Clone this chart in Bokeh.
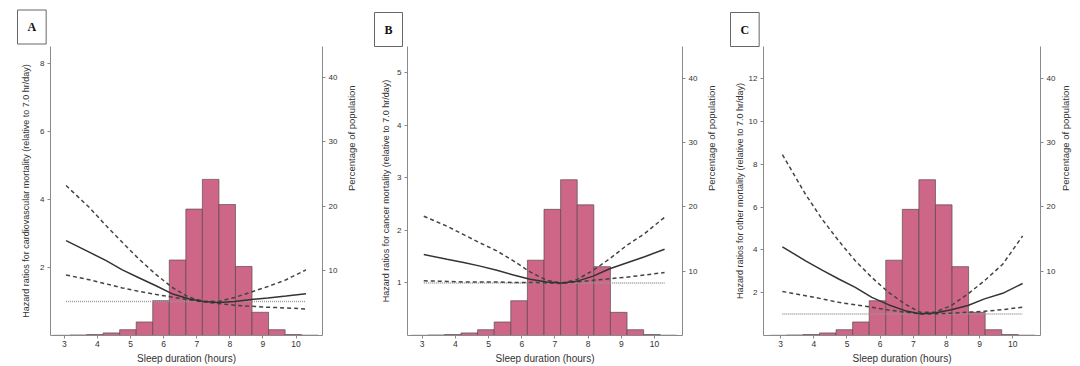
import math
from bokeh.plotting import figure
from bokeh.layouts import row
from bokeh.models import Range1d, LinearAxis, FixedTicker, Title
from bokeh.embed import file_html
from bokeh.resources import INLINE

# ---------------- data ----------------
bin_left = [2.67, 3.17, 3.67, 4.17, 4.67, 5.17, 5.67, 6.17, 6.67, 7.17, 7.67, 8.17, 8.67, 9.17, 9.67, 10.17]
bin_right = [3.17, 3.67, 4.17, 4.67, 5.17, 5.67, 6.17, 6.67, 7.17, 7.67, 8.17, 8.67, 9.17, 9.67, 10.17, 10.67]
pct_population = [0.03, 0.08, 0.15, 0.4, 0.9, 2.1, 5.4, 11.7, 19.6, 24.2, 20.3, 10.7, 3.6, 0.9, 0.15, 0.05]

hours = [3.05, 3.75, 4.25, 4.75, 5.25, 5.75, 6.25, 6.75, 7.2, 7.65, 8.15, 8.65, 9.15, 9.7, 10.3]

cv_hr = [2.79, 2.45, 2.21, 1.93, 1.70, 1.47, 1.23, 1.08, 1.0, 0.97, 1.0, 1.06, 1.10, 1.16, 1.23]
cv_upper = [4.41, 3.77, 3.24, 2.74, 2.25, 1.81, 1.42, 1.13, 1.01, 1.0, 1.12, 1.28, 1.44, 1.64, 1.93]
cv_lower = [1.78, 1.64, 1.52, 1.40, 1.30, 1.21, 1.13, 1.05, 0.99, 0.94, 0.89, 0.86, 0.83, 0.81, 0.78]

ca_hr = [1.54, 1.45, 1.39, 1.32, 1.24, 1.15, 1.07, 1.02, 1.0, 1.03, 1.13, 1.27, 1.38, 1.50, 1.64]
ca_upper = [2.27, 2.08, 1.92, 1.76, 1.61, 1.42, 1.21, 1.05, 1.0, 1.06, 1.24, 1.46, 1.71, 1.94, 2.25]
ca_lower = [1.04, 1.03, 1.02, 1.02, 1.02, 1.01, 1.01, 1.0, 0.99, 1.02, 1.05, 1.08, 1.11, 1.15, 1.20]

ot_hr = [4.14, 3.49, 3.05, 2.64, 2.25, 1.78, 1.44, 1.16, 1.02, 1.05, 1.20, 1.40, 1.71, 1.97, 2.43]
ot_upper = [8.45, 6.59, 5.43, 4.42, 3.49, 2.71, 2.02, 1.47, 1.09, 1.09, 1.40, 1.94, 2.56, 3.33, 4.65]
ot_lower = [2.06, 1.86, 1.71, 1.55, 1.43, 1.32, 1.19, 1.09, 1.01, 1.01, 1.04, 1.09, 1.13, 1.21, 1.32]

ref_x = [3.05, 10.3]
ref_y = [1.0, 1.0]

x_ticks = [3, 4, 5, 6, 7, 8, 9, 10]
pct_ticks = [10, 20, 30, 40]

# layout / style per panel (pixels)
panels = [
    dict(letter="A", ylabel="Hazard ratios for cardiovascular mortality (relative to 7.0 hr/day)",
         hr=cv_hr, up=cv_upper, lo=cv_lower, yticks=[2, 4, 6, 8], ymax=8.5, pmax=44.8,
         width=365, bl=50, br=42, x0=2.58, x1=10.80, lstand=6, tstand=5, rstand=11),
    dict(letter="B", ylabel="Hazard ratios for cancer mortality (relative to 7.0 hr/day)",
         hr=ca_hr, up=ca_upper, lo=ca_lower, yticks=[1, 2, 3, 4, 5], ymax=5.5, pmax=44.9,
         width=360, bl=42, br=43, x0=2.56, x1=10.84, lstand=3, tstand=0, rstand=11),
    dict(letter="C", ylabel="Hazard ratios for other mortality (relative to 7.0 hr/day)",
         hr=ot_hr, up=ot_upper, lo=ot_lower, yticks=[2, 4, 6, 8, 10, 12], ymax=13.5, pmax=44.9,
         width=355, bl=38, br=40, x0=2.48, x1=10.84, lstand=1, tstand=0, rstand=7),
]

H = 366
TOP, BOTTOM = 46, 31
FONT = "Liberation Sans"
TXT = "#333333"
AXC = "#8a8a8a"


def style_axis(ax, size="8px"):
    ax.axis_line_color = AXC
    ax.major_tick_line_color = AXC
    ax.minor_tick_line_color = None
    ax.major_tick_in = 0
    ax.major_tick_out = 3
    ax.major_label_text_font = FONT
    ax.major_label_text_font_size = size
    ax.major_label_text_color = TXT
    ax.axis_label_text_font = FONT
    ax.axis_label_text_font_style = "normal"
    ax.axis_label_text_color = TXT


figs = []
for pn in panels:
    box = Title(text=pn["letter"], align="left", offset=-33, standoff=pn["tstand"],
                text_font="Liberation Serif", text_font_style="bold", text_font_size="12px",
                text_color="#111111")
    for k, v in dict(border_line_color="#666666", border_line_width=1,
                     background_fill_color="white", padding=10).items():
        try:
            setattr(box, k, v)
        except Exception:
            pass
    p = figure(width=pn["width"], height=H, output_backend="svg", toolbar_location=None,
               x_range=Range1d(pn["x0"], pn["x1"]), y_range=Range1d(0, pn["ymax"]),
               min_border_left=pn["bl"], min_border_right=pn["br"],
               min_border_top=TOP, min_border_bottom=BOTTOM, title=box)
    p.outline_line_color = None
    p.xgrid.visible = False
    p.ygrid.visible = False
    p.extra_y_ranges = {"pct": Range1d(0, pn["pmax"])}

    p.quad(left=bin_left, right=bin_right, bottom=0, top=pct_population, y_range_name="pct",
           fill_color="#cd6687", line_color="#5a4a50", line_width=0.7)
    p.line(ref_x, ref_y, line_color="#9a9a9a", line_width=1.5, line_dash="1 1")
    p.line(hours, pn["up"], line_color="#444444", line_width=1.5, line_dash="4 3")
    p.line(hours, pn["lo"], line_color="#444444", line_width=1.5, line_dash="4 3")
    p.line(hours, pn["hr"], line_color="#333333", line_width=1.5)

    xa = p.xaxis[0]
    style_axis(xa, "8.5px")
    xa.ticker = FixedTicker(ticks=x_ticks)
    xa.axis_label = "Sleep duration (hours)"
    xa.axis_label_text_font_size = "10px"
    xa.major_label_standoff = 2
    xa.axis_label_standoff = 3

    ya = p.yaxis[0]
    style_axis(ya, "8px")
    ya.ticker = FixedTicker(ticks=pn["yticks"])
    ya.axis_label = pn["ylabel"]
    ya.axis_label_text_font_size = "9px"
    ya.major_label_standoff = 3
    ya.axis_label_standoff = pn["lstand"]

    ra = LinearAxis(y_range_name="pct", ticker=FixedTicker(ticks=pct_ticks),
                    axis_label="Percentage of population")
    style_axis(ra, "8px")
    ra.axis_label_text_font_size = "9.5px"
    ra.major_label_standoff = 3
    ra.axis_label_standoff = pn["rstand"]
    try:
        ra.axis_label_orientation = math.pi / 2
    except Exception:
        pass
    p.add_layout(ra, "right")
    figs.append(p)

layout = row(*figs)
open("out.html", "w").write(file_html(layout, INLINE))
